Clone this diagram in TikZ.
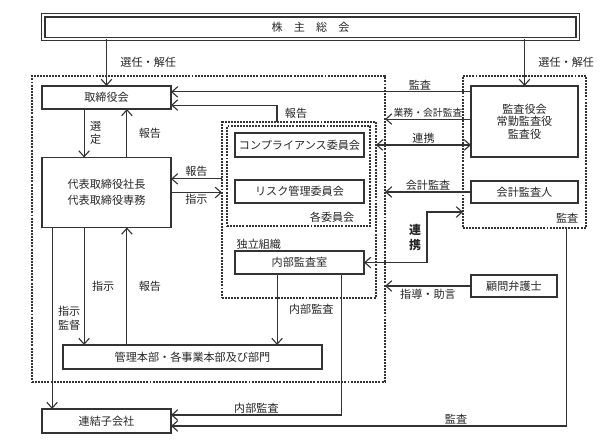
\documentclass[tikz,border=0pt]{standalone}
\usepackage{fontspec}
\setmainfont{Noto Sans CJK JP}
\usetikzlibrary{arrows.meta,positioning}

\begin{document}
\begin{tikzpicture}[x=0.025cm,y=-0.025cm,font=\fontsize{7.9}{9.5}\selectfont,
  box/.style={draw=black!80,line width=1.1pt,inner sep=0pt,outer sep=0pt,align=center,text=black!85},
  grp/.style={draw=black!80,line width=0.9pt,dash pattern=on 1.4pt off 0.8pt,inner sep=0pt,outer sep=0pt},
  arr/.style={draw=black!80,line width=0.8pt,-{Straight Barb[length=4.2pt,width=7.5pt]}},
  arr2/.style={arr,{Straight Barb[length=4.2pt,width=7.5pt]}-{Straight Barb[length=4.2pt,width=7.5pt]}},
  lbl/.style={inner sep=1pt,text=black!85,align=center}]
		\useasboundingbox (0,0) rectangle (600,448);
		\node[grp,minimum width=8.825cm,minimum height=7.65cm] (keiei) at (208.5,229) {};
		\node[grp,minimum width=3.85cm,minimum height=4.4cm] (dokuritsu) at (299,210) {};
		\node[grp,minimum width=3.575cm,minimum height=2.5cm] (iinkai) at (298.5,176) {};
		\node[grp,minimum width=3.075cm,minimum height=3.8cm] (kansa) at (524.5,152) {};
		
		\node[box,double,double distance=1.5pt,line width=0.8pt,minimum width=13.35cm,minimum height=0.59cm] (soukai) at (310.5,27.2) {株\hspace{1em}主\hspace{1em}総\hspace{1em}会};
		\node[box,minimum width=3.225cm,minimum height=0.575cm] (torishimari) at (106.5,97.5) {取締役会};
		\node[box,minimum width=3.225cm,minimum height=1.75cm,font=\fontsize{7.9}{11.5}\selectfont] (daihyo) at (106.5,192.5) {代表取締役社長\\代表取締役専務};
		\node[box,minimum width=6.475cm,minimum height=0.6cm] (kanri) at (192.5,357) {管理本部・各事業本部及び部門};
		\node[box,minimum width=3.225cm,minimum height=0.6cm] (renketsu) at (106.5,421) {連結子会社};
		\node[box,minimum width=3.225cm,minimum height=0.6cm] (comp) at (299.5,145) {コンプライアンス委員会};
		\node[box,minimum width=3.225cm,minimum height=0.575cm] (risk) at (299.5,191.5) {リスク管理委員会};
		\node[box,minimum width=3.225cm,minimum height=0.575cm] (naibu) at (299.5,262.5) {内部監査室};
		\node[box,minimum width=2.675cm,minimum height=1.775cm,font=\fontsize{7.9}{9}\selectfont] (kansayaku) at (524.5,121.5) {監査役会\\常勤監査役\\監査役};
		\node[box,minimum width=2.675cm,minimum height=0.55cm] (kaikei) at (524.5,192) {会計監査人};
		\node[box,minimum width=2.15cm,minimum height=0.55cm] (komon) at (514,286) {顧問弁護士};
		
		\node[lbl,anchor=south east] (kakuLbl) at ([xshift=-3.5mm,yshift=0.4mm]iinkai.south east) {各委員会};
		\node[lbl,anchor=south west] (dokuLbl) at (naibu.north west) {独立組織};
		\node[lbl,anchor=south east] (kansaLbl) at ([xshift=-1.5mm,yshift=0.8mm]kansa.south east) {監査};
		\coordinate (renkeiPt) at (427,212);
		
		\draw[arr] (soukai.south -| torishimari.north) -- node[lbl,midway,right=3mm] {選任・解任} (torishimari.north);
		\draw[arr] (soukai.south -| kansayaku.north) -- node[lbl,midway,right=3mm] {選任・解任} (kansayaku.north);
		\draw[arr] ([yshift=1.4mm]torishimari.east -| kansayaku.west) -- node[lbl,pos=0.17,above] {監査} ([yshift=1.4mm]torishimari.east);
		\draw[arr] ([xshift=-5.5mm]dokuritsu.north) |- node[lbl,pos=0.25,right=1.5mm] {報告} ([yshift=-1.9mm]torishimari.east);
		\draw[arr] ([yshift=0.6mm]kansayaku.west) -- node[lbl,midway,above,font=\fontsize{7}{8}\selectfont] {業務・会計監査} ([yshift=0.6mm]kansayaku.west -| keiei.east);
		\draw[arr2] (comp.east -| dokuritsu.east) -- node[lbl,midway,above] {連携} (comp.east -| kansayaku.west);
		\draw[arr] (kaikei.west) -- node[lbl,midway,above] {会計監査} (kaikei.west -| keiei.east);
		\draw[arr2] (naibu.east) -| node[lbl,pos=0.75,left=1mm,font=\fontsize{8.5}{11}\selectfont\bfseries] {連\\携} (renkeiPt) -- (renkeiPt -| kansa.west);
		\draw[arr] (komon.west) -- node[lbl,midway,below=1pt] {指導・助言} (komon.west -| keiei.east);
		
		\draw[arr] ([yshift=3.4mm]daihyo.east -| dokuritsu.west) -- node[lbl,midway,above] {報告} ([yshift=3.4mm]daihyo.east);
		\draw[arr] (daihyo.east) -- node[lbl,midway,below] {指示} (daihyo.east -| dokuritsu.west);
		\draw[arr] ([xshift=-5.6mm]torishimari.south) -- node[lbl,midway,right=1mm] {選\\定} ([xshift=-5.6mm]daihyo.north);
		\draw[arr] ([xshift=5.1mm]daihyo.north) -- node[lbl,midway,right=2.5mm] {報告} ([xshift=5.1mm]torishimari.south);
		\draw[arr] ([xshift=-5.6mm]daihyo.south) -- node[lbl,midway,right=1.5mm] {指示} ([xshift=-5.6mm]daihyo.south |- kanri.north);
		\draw[arr] ([xshift=5.1mm]daihyo.south |- kanri.north) -- node[lbl,midway,right=2.5mm] {報告} ([xshift=5.1mm]daihyo.south);
		\draw[arr] ([xshift=-13.6mm]daihyo.south) -- node[lbl,midway,right=1mm] {指示\\監督} ([xshift=-13.6mm]renketsu.north);
		
		\draw[arr] ([xshift=-5.6mm]naibu.south) -- node[lbl,midway,right=2.5mm] {内部監査} ([xshift=-5.6mm]naibu.south |- kanri.north);
		\draw[arr] ([xshift=10.6mm]naibu.south) |- node[lbl,pos=0.75,above] {内部監査} ([yshift=1.5mm]renketsu.east);
		\draw[arr] ([xshift=10.6mm]kansa.south) |- node[lbl,pos=0.64,above] {監査} ([yshift=-1.25mm]renketsu.east);
		\end{tikzpicture}
\end{document}
